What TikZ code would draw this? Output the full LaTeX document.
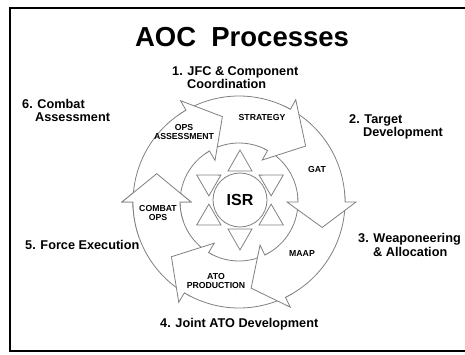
\documentclass[tikz,border=0pt]{standalone}
\usepackage{fontspec}
\setmainfont{Liberation Sans}
\begin{document}
\def\Ro{106}\def\Ri{59}\def\Rb{117}\def\rb{48}\def\Rt{87}
\newcommand\ringarrow[3]{%
  \path[arrowshape] (#1:\Ro) arc[start angle=#1, end angle=#2, radius=\Ro pt]
    -- (#2:\Rb) -- (#3:\Rt) -- (#2:\rb) -- (#2:\Ri)
    arc[start angle=#2, end angle=#1, radius=\Ri pt] -- cycle;}
\begin{tikzpicture}[x=1pt,y=-1pt,
  arrowshape/.style={draw=black!50, fill=white, line width=0.8pt, line join=miter},
  tri/.style={draw=black!50, line width=0.8pt, line join=miter},
  inlabel/.style={font=\fontsize{8.7}{9}\selectfont\bfseries, align=center, inner sep=0pt},
  outlabel/.style={font=\fontsize{12.7}{13}\selectfont\bfseries, inner sep=0pt, anchor=base west}]
\useasboundingbox (0,0) rectangle (465,354);
\draw[line width=1.5pt] (468,8) -- (10,8) -- (10,351) -- (468,351);
\node[font=\fontsize{27.5}{27.5}\selectfont\bfseries, inner sep=0pt, anchor=base] (title) at (242,46) {AOC\ \ Processes};
% ring of arrows
\begin{scope}[shift={(239,202)}, y=1pt]
  \ringarrow{243}{180}{161}
  \ringarrow{-60}{-121}{-141}
  \ringarrow{4}{-64}{-82}
  \ringarrow{65}{0}{-17}
  \ringarrow{124}{61}{40}
  \ringarrow{184}{120}{101}
  \begin{scope}
    \clip (0,0) -- (200:150) arc[start angle=200, end angle=150, radius=150pt] -- cycle;
    \ringarrow{243}{180}{161}
  \end{scope}
\end{scope}
% hexagram
\begin{scope}[shift={(240,200)}, y=1pt]
  \foreach \a in {90,30,-30,-90,150,210}
    \draw[tri, rotate=\a] (50,0) -- (29,12) -- (29,-12) -- cycle;
\end{scope}
\node[circle, draw=black!50, fill=white, line width=0.8pt, minimum size=54pt, inner sep=0pt,
  font=\fontsize{16}{16}\selectfont\bfseries] (isr) at (240,200) {ISR};
% inner labels
\node[inlabel] (ops) at (184,132) {OPS\\ASSESSMENT};
\node[inlabel] (strat) at (262,117) {STRATEGY};
\node[inlabel] (gat) at (317,169) {GAT};
\node[inlabel] (maap) at (302,253) {MAAP};
\node[inlabel] (ato) at (216,281) {ATO\\PRODUCTION};
\node[inlabel] (combat) at (158,213) {COMBAT\\OPS};
% outer labels
\node[outlabel] (l1a) at (172,75) {1. JFC \& Component};
\node[outlabel] (l1b) at (187,88) {Coordination};
\node[outlabel] (l2a) at (349,123) {2. Target};
\node[outlabel] (l2b) at (363,136) {Development};
\node[outlabel] (l3a) at (358,242) {3. Weaponeering};
\node[outlabel] (l3b) at (373,256) {\& Allocation};
\node[outlabel] (l4) at (160,327) {4. Joint ATO Development};
\node[outlabel] (l5) at (25,249) {5. Force Execution};
\node[outlabel] (l6a) at (22,108) {6. Combat};
\node[outlabel] (l6b) at (35,121) {Assessment};
\end{tikzpicture}
\end{document}
